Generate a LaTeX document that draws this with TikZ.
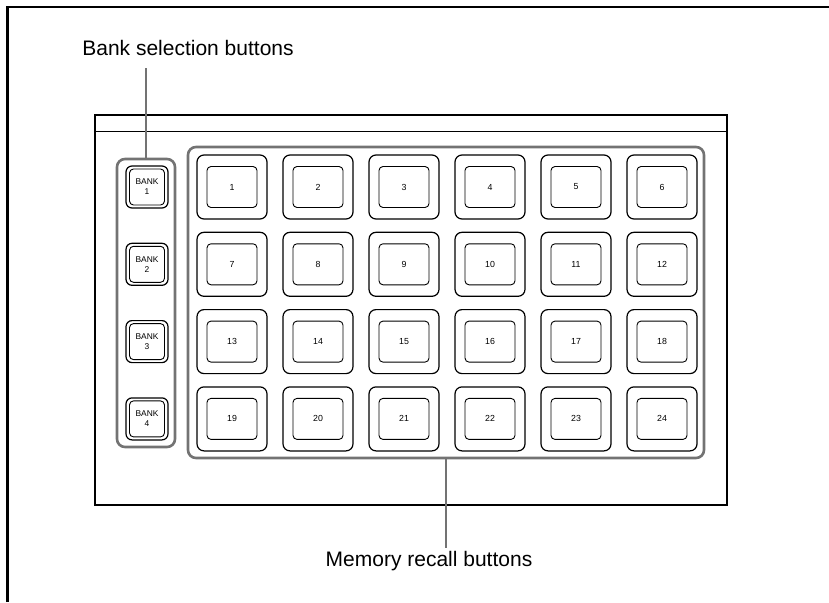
\documentclass[tikz,border=0pt]{standalone}
\usepackage{fontspec}
\setmainfont{Liberation Sans}
\usetikzlibrary{positioning}

\begin{document}
\begin{tikzpicture}[x=1pt, y=-1pt,
  frame/.style={line width=2.2pt},
  group/.style={draw=black!55, line width=2.6pt, rounded corners=8pt, inner sep=0pt},
  keyouter/.style={draw, line width=1.2pt, rounded corners=7pt, minimum width=70pt, minimum height=64pt, inner sep=0pt},
  keyinner/.style={draw, line width=0.9pt, rounded corners=4pt, minimum width=50pt, minimum height=41pt, inner sep=0pt, font=\fontsize{8.8}{10}\selectfont},
  bankouter/.style={keyouter, minimum width=42pt, minimum height=42pt, rounded corners=6pt},
  bankinner/.style={keyinner, minimum width=35pt, minimum height=36pt, align=center, font=\fontsize{8.4}{10}\selectfont},
  leader/.style={draw=black!55, line width=2.6pt},
  caption/.style={font=\fontsize{21}{24}\selectfont, inner sep=0pt}]
\useasboundingbox (0,0) rectangle (829,602);
\draw[frame] (7.5,602) -- (7.5,7) -- (829,7);
\node[draw, line width=2.5pt, minimum width=632pt, minimum height=390pt, inner sep=0pt] (panel) at (411,310) {};
\draw[line width=0.8pt] ([yshift=-18pt]panel.north west) -- ([yshift=-18pt]panel.north east);
\node[group, minimum width=58pt, minimum height=288pt] (bankgrp) at (146,303) {};
\node[group, minimum width=516pt, minimum height=311pt] (memgrp) at (446,302.5) {};
\foreach \b in {1,...,4} {
  \node[bankouter] (bank\b) at (147,{187+77.3*(\b-1)}) {};
  \node[bankinner] (banklbl\b) at (bank\b) {BANK\\\b};
}
\foreach \r in {0,...,3} {
  \foreach \c in {1,...,6} {
    \pgfmathtruncatemacro{\n}{6*\r+\c}
    \node[keyouter] (key\n) at ({232+86*(\c-1)},{187+77.3*\r}) {};
    \node[keyinner] (keylbl\n) at (key\n) {\n};
  }
}
\node[caption] (banktext) at (188,48) {Bank selection buttons};
\coordinate (banktip) at (146,68);
\draw[leader] (bankgrp.north) -- (banktip);
\node[caption] (memtext) at (429,561) {Memory recall buttons};
\coordinate (memtip) at (446,548);
\draw[leader] (memgrp.south) -- (memtip);
\end{tikzpicture}
\end{document}
